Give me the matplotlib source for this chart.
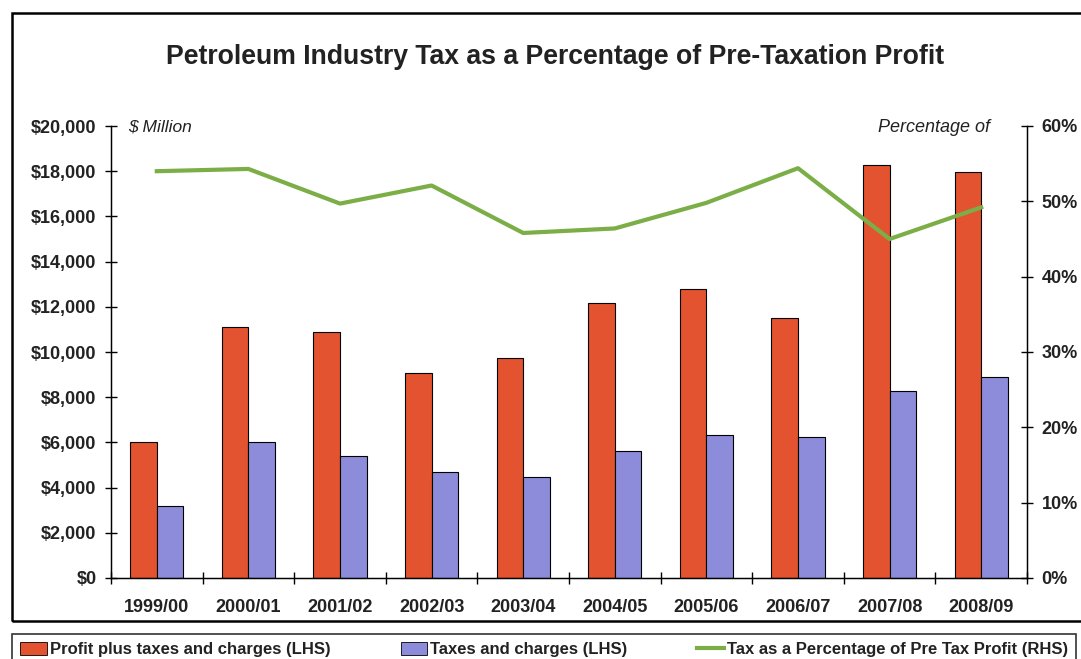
import matplotlib.pyplot as plt
import numpy as np
from matplotlib.patches import Rectangle
from matplotlib.lines import Line2D
from matplotlib.ticker import FuncFormatter, FixedLocator

# data
years = ['1999/00', '2000/01', '2001/02', '2002/03', '2003/04',
         '2004/05', '2005/06', '2006/07', '2007/08', '2008/09']
profit = [6000, 11100, 10880, 9050, 9740, 12160, 12770, 11490, 18270, 17980]
taxes = [3200, 6020, 5400, 4700, 4450, 5630, 6340, 6250, 8260, 8900]
tax_pct = [54.0, 54.3, 49.7, 52.1, 45.8, 46.4, 49.8, 54.4, 45.0, 49.2]

red = '#E4532F'
blue = '#8C8CDA'
green = '#7BAE46'
ink = '#222222'

plt.rcParams['font.family'] = ['Liberation Sans', 'DejaVu Sans']

fig = plt.figure(figsize=(10.81, 6.59), dpi=100)
ax = fig.add_axes([111 / 1081, 1 - 578 / 659, (1027 - 111) / 1081, (578 - 126) / 659])

x = np.arange(len(years))
w = 0.29
ax.bar(x - w / 2, profit, w, color=red, edgecolor='black', linewidth=0.8, zorder=2)
ax.bar(x + w / 2, taxes, w, color=blue, edgecolor='black', linewidth=0.8, zorder=2)

ax.set_xlim(-0.5, len(years) - 0.5)
ax.set_ylim(0, 20000)
ax.set_yticks(np.arange(0, 20001, 2000))
ax.yaxis.set_major_formatter(FuncFormatter(lambda v, p: '${:,.0f}'.format(v)))

ax.set_xticks(x)
ax.set_xticklabels(years)
ax.xaxis.set_minor_locator(FixedLocator(np.arange(-0.5, len(years), 1)))
ax.tick_params(axis='x', which='major', length=0, pad=15, labelsize=13, labelcolor=ink)
ax.tick_params(axis='x', which='minor', direction='inout', length=9, width=1)
ax.tick_params(axis='y', direction='inout', length=9, width=1, pad=6, labelsize=13, labelcolor=ink)
for lab in ax.get_xticklabels() + ax.get_yticklabels():
    lab.set_fontweight('bold')

ax.spines['top'].set_visible(False)
for s in ['left', 'right', 'bottom']:
    ax.spines[s].set_linewidth(1)

# right axis (percentage)
ax2 = ax.twinx()
ax2.plot(x, tax_pct, color=green, linewidth=3, zorder=3)
ax2.set_ylim(0, 60)
ax2.set_yticks(np.arange(0, 61, 10))
ax2.yaxis.set_major_formatter(FuncFormatter(lambda v, p: '{:.0f}%'.format(v)))
ax2.tick_params(axis='y', direction='inout', length=9, width=1, pad=6, labelsize=13, labelcolor=ink)
for lab in ax2.get_yticklabels():
    lab.set_fontweight('bold')
ax2.spines['top'].set_visible(False)

ax.text(128 / 1081, 1 - 127 / 659, '$ Million', transform=fig.transFigure,
        fontsize=12.5, style='italic', color=ink, va='center', ha='left')
ax.text(990 / 1081, 1 - 127 / 659, 'Percentage of', transform=fig.transFigure,
        fontsize=13, style='italic', color=ink, va='center', ha='right')

fig.text(555 / 1081, 1 - 57 / 659, 'Petroleum Industry Tax as a Percentage of Pre-Taxation Profit',
         fontsize=19.2, fontweight='bold', color=ink, ha='center', va='center')

# outer frame
fig.patches.append(Rectangle((12 / 1081, 1 - 621 / 659), 1.1, (621 - 13) / 659,
                             transform=fig.transFigure, fill=False,
                             edgecolor='black', linewidth=1.8))

handles = [Rectangle((0, 0), 1, 1, facecolor=red, edgecolor='black', linewidth=0.6),
           Rectangle((0, 0), 1, 1, facecolor=blue, edgecolor='black', linewidth=0.6),
           Line2D([0], [0], color=green, linewidth=3)]
labels = ['Profit plus taxes and charges (LHS)', 'Taxes and charges (LHS)',
          'Tax as a Percentage of Pre Tax Profit (RHS)']
leg = fig.legend(handles, labels, loc='lower left', ncol=3, mode='expand',
                 bbox_to_anchor=(12 / 1081, -0.01, (1076 - 12) / 1081, 37 / 659),
                 frameon=True, fancybox=False, edgecolor='black', handlelength=1.6,
                 handleheight=0.8, handletextpad=0.15, borderaxespad=0,
                 borderpad=0.5, prop={'weight': 'bold', 'size': 12})
leg.get_frame().set_linewidth(1.2)
for t in leg.get_texts():
    t.set_color(ink)

fig.savefig('out.png', dpi=100)
